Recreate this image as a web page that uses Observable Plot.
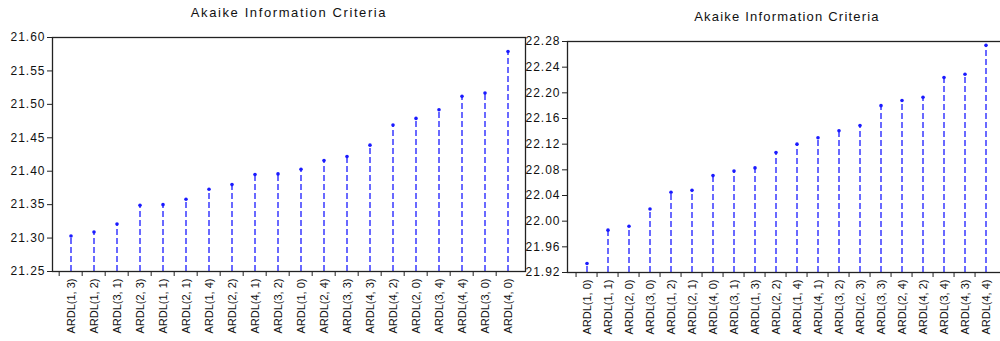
<!DOCTYPE html>
<html>
<head>
<meta charset="utf-8">
<script src="https://cdn.jsdelivr.net/npm/d3@7"></script>
<script src="https://cdn.jsdelivr.net/npm/@observablehq/plot@0.6"></script>
<style>
  html, body { margin: 0; padding: 0; background: #fff; }
  body { width: 1000px; height: 341px; overflow: hidden; position: relative; font-family: "Liberation Sans", Arial, sans-serif; }
  .panel { position: absolute; top: 0; }
  .panel svg { max-width: none !important; background: transparent !important; }
  .panel svg g[aria-label="y-axis tick label"] text { letter-spacing: 1px; }
  .title { position: absolute; font-size: 13px; color: #111; white-space: nowrap; transform: translateX(-50%); line-height: 15px; }
</style>
</head>
<body>
<div class="title" style="left:289px; top:5px; letter-spacing:1.6px;">Akaike Information Criteria</div>
<div class="title" style="left:787px; top:9px; letter-spacing:1.2px;">Akaike Information Criteria</div>
<div id="left" class="panel" style="left:0px; width:530px;"></div>
<div id="right" class="panel" style="left:515px; width:490px;"></div>
<script>
// Left panel data
const leftCats = ["ARDL(1, 3)","ARDL(1, 2)","ARDL(3, 1)","ARDL(2, 3)","ARDL(1, 1)","ARDL(2, 1)","ARDL(1, 4)","ARDL(2, 2)","ARDL(4, 1)","ARDL(3, 2)","ARDL(1, 0)","ARDL(2, 4)","ARDL(3, 3)","ARDL(4, 3)","ARDL(4, 2)","ARDL(2, 0)","ARDL(3, 4)","ARDL(4, 4)","ARDL(3, 0)","ARDL(4, 0)"];
const leftVals = [21.303,21.309,21.321,21.349,21.350,21.358,21.373,21.380,21.395,21.396,21.403,21.416,21.422,21.439,21.469,21.479,21.492,21.512,21.517,21.579];
const leftTicks = [21.25,21.30,21.35,21.40,21.45,21.50,21.55,21.60];

// Right panel data
const rightCats = ["ARDL(1, 0)","ARDL(1, 1)","ARDL(2, 0)","ARDL(3, 0)","ARDL(1, 2)","ARDL(2, 1)","ARDL(4, 0)","ARDL(3, 1)","ARDL(1, 3)","ARDL(2, 2)","ARDL(1, 4)","ARDL(4, 1)","ARDL(3, 2)","ARDL(2, 3)","ARDL(3, 3)","ARDL(2, 4)","ARDL(4, 2)","ARDL(3, 4)","ARDL(4, 3)","ARDL(4, 4)"];
const rightVals = [21.934,21.986,21.992,22.019,22.045,22.048,22.071,22.078,22.083,22.107,22.120,22.130,22.141,22.149,22.180,22.188,22.193,22.224,22.229,22.274];
const rightTicks = [21.92,21.96,22.00,22.04,22.08,22.12,22.16,22.20,22.24,22.28];

const STEM = "#1a1aff";

function panel({cats, vals, ticks, width, marginLeft, marginRight, marginTop, marginBottom}) {
  const data = cats.map((c, i) => ({c, v: vals[i]}));
  const domain = [ticks[0], ticks[ticks.length - 1]];
  const bw = (width - marginLeft - marginRight) / cats.length;
  return Plot.plot({
    width, height: 341, marginLeft, marginRight, marginTop, marginBottom,
    style: {fontFamily: "'Liberation Sans', Arial, sans-serif", fontSize: "12px", background: "transparent", overflow: "visible", color: "#111"},
    x: {type: "band", domain: cats, padding: 0, axis: null},
    y: {domain, axis: null},
    marks: [
      Plot.ruleX(data, {x: "c", y1: domain[0], y2: "v", stroke: STEM, strokeWidth: 1.3, strokeDasharray: "6,3"}),
      Plot.dot(data, {x: "c", y: "v", r: 1.8, fill: STEM}),
      Plot.axisY({ticks, tickFormat: d3.format(".2f"), tickSize: 5, tickPadding: 2, fontSize: 12, stroke: "#222", label: null}),
      Plot.axisX({tickSize: 5, tickFormat: () => "", dx: -bw / 2, stroke: "#222", label: null}),
      Plot.axisX({tickSize: 0, tickRotate: -90, tickPadding: 7, fontSize: 11, label: null}),
      Plot.frame({stroke: "#222", strokeWidth: 1.3})
    ]
  });
}

document.getElementById("left").append(panel({
  cats: leftCats, vals: leftVals, ticks: leftTicks,
  width: 530, marginLeft: 52, marginRight: 5, marginTop: 37, marginBottom: 70
}));
document.getElementById("right").append(panel({
  cats: rightCats, vals: rightVals, ticks: rightTicks,
  width: 490, marginLeft: 52, marginRight: 0, marginTop: 41, marginBottom: 69
}));
</script>
</body>
</html>
